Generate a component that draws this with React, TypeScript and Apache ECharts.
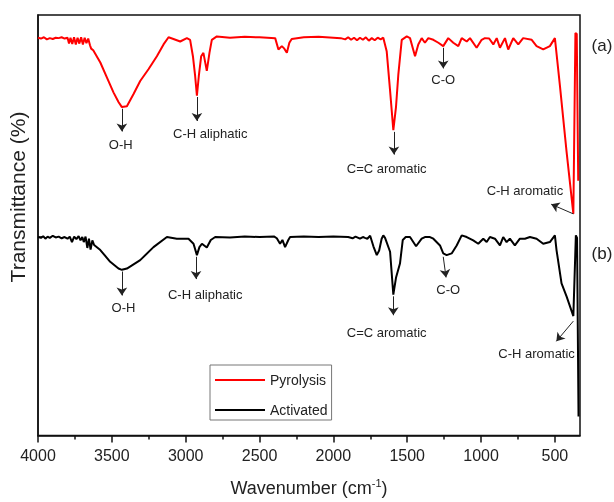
import React, { useEffect, useRef } from 'react';
import * as echarts from 'echarts';

const FONT = "'Liberation Sans', Arial, sans-serif";

const MAJOR_TICKS = [4000, 3500, 3000, 2500, 2000, 1500, 1000, 500];
const MINOR_TICKS = [3750, 3250, 2750, 2250, 1750, 1250, 750];
const SERIES_NAMES = ['Pyrolysis', 'Activated'];

const pyrolysis: [number, number][] = [
  [4000, 94.6], [3980, 94.4], [3960, 94.7], [3940, 94.2], [3920, 94.5], [3900, 94.3], [3880, 94.6], [3860, 94.5], [3840, 94.7], [3820, 94.4], [3800, 94.6],
  [3790, 93.2], [3780, 94.6], [3768, 93.1], [3756, 94.7], [3744, 93.0], [3732, 94.6], [3720, 93.2], [3708, 94.7], [3696, 93.0], [3684, 94.6], [3672, 93.3], [3660, 94.4], [3648, 92.8], [3640, 92.0], [3626, 91.6],
  [3578, 88.7], [3533, 85.1], [3489, 81.6], [3455, 79.3], [3432, 78.1], [3398, 78.3], [3353, 81.2], [3308, 84.3], [3252, 87.1], [3195, 90.2], [3150, 93.0], [3116, 94.7], [3083, 94.3], [3037, 93.7], [2992, 94.5], [2970, 94.1],
  [2951, 90.2], [2936, 85.5], [2924, 80.8], [2911, 85.5], [2895, 90.2], [2880, 91.0], [2857, 86.7], [2839, 91.0], [2823, 94.1], [2789, 94.9],
  [2700, 94.6], [2600, 94.8], [2500, 94.7], [2394, 94.5], [2372, 91.8], [2349, 92.6], [2332, 92.0], [2315, 91.0], [2298, 93.4], [2282, 94.3], [2200, 94.7], [2100, 94.8], [2000, 94.6], [1950, 94.5],
  [1920, 94.2], [1900, 94.7], [1880, 94.1], [1860, 94.6], [1840, 94.0], [1820, 94.6], [1800, 94.1], [1780, 94.7], [1760, 93.9], [1740, 94.5], [1720, 94.0], [1700, 94.6], [1680, 94.2], [1662, 94.6],
  [1639, 91.4], [1616, 82.0], [1594, 72.6], [1576, 78.1], [1560, 85.9], [1537, 94.1], [1503, 94.9], [1481, 94.5], [1447, 90.2], [1425, 93.0], [1402, 94.5], [1380, 93.4], [1357, 94.5], [1323, 94.1], [1289, 93.4],
  [1256, 92.6], [1222, 94.5], [1188, 93.4], [1154, 92.6], [1131, 94.5], [1097, 93.7], [1075, 94.5], [1030, 92.2], [996, 94.1], [974, 94.5], [945, 94.4], [917, 93.0], [894, 94.5], [872, 92.2], [838, 94.5],
  [816, 91.8], [782, 94.5], [748, 93.0], [715, 94.5], [657, 94.1], [624, 92.6], [579, 91.8], [534, 92.6], [500, 94.5],
  [466, 83.2], [421, 67.5], [375, 52.7], [361, 95.7], [352, 95.5], [342, 60.6],
];

const activated: [number, number][] = [
  [4000, 47.2], [3980, 47.0], [3965, 47.4], [3950, 46.8], [3935, 47.3], [3920, 47.0], [3900, 47.5], [3880, 47.1], [3860, 47.3], [3840, 46.9], [3820, 47.2], [3800, 46.8],
  [3785, 47.3], [3770, 46.0], [3755, 47.3], [3740, 46.7], [3725, 47.4], [3712, 46.4], [3700, 47.2], [3690, 46.0], [3678, 47.3], [3666, 44.6], [3655, 46.8], [3644, 44.2], [3632, 46.4], [3620, 45.3],
  [3578, 44.1], [3511, 41.3], [3455, 39.7], [3432, 39.4], [3398, 39.7], [3308, 41.7], [3218, 44.8], [3127, 47.2], [3060, 46.8], [2981, 46.8],
  [2947, 45.6], [2924, 42.9], [2907, 44.8], [2890, 45.6], [2857, 44.7], [2830, 46.5], [2800, 47.2],
  [2700, 47.1], [2600, 47.3], [2500, 47.2], [2400, 47.3], [2383, 46.9], [2361, 45.6], [2345, 46.5], [2327, 44.8], [2305, 46.5], [2293, 47.2], [2200, 47.3], [2100, 47.2], [2000, 47.3],
  [1900, 47.2], [1870, 46.9], [1850, 47.3], [1820, 46.8], [1800, 47.2], [1786, 47.0], [1770, 46.8], [1751, 47.5],
  [1729, 45.0], [1706, 42.9], [1690, 44.0], [1673, 46.8], [1662, 47.6], [1650, 47.0], [1616, 43.7], [1594, 33.5], [1576, 37.5], [1549, 40.9], [1530, 46.5], [1510, 47.2], [1481, 47.2],
  [1440, 45.0], [1402, 46.8], [1380, 47.2], [1346, 47.2], [1323, 46.8], [1278, 45.2], [1256, 43.3], [1233, 42.9], [1199, 43.3], [1165, 45.2], [1131, 47.6], [1097, 47.2], [1053, 46.4],
  [1019, 45.6], [985, 46.8], [962, 46.0], [940, 47.2], [906, 46.8], [872, 45.2], [850, 47.2], [827, 46.0], [805, 46.8], [771, 45.2], [737, 46.8], [703, 46.8], [669, 47.2], [624, 46.8],
  [579, 45.6], [534, 46.0], [500, 47.6],
  [489, 44.1], [455, 36.2], [421, 33.1], [375, 28.4], [358, 47.6], [350, 47.0], [340, 4.5],
];

// annotation: label, arrow start, arrow tip, label anchor (data coordinates)
type Note = { label: string; from: [number, number]; to: [number, number]; at: [number, number] };

const pyrolysisNotes: Note[] = [
  { label: 'O-H', from: [3432, 77.7], to: [3432, 72.3], at: [3440, 69.1] },
  { label: 'C-H aliphatic', from: [2924, 80.5], to: [2924, 74.8], at: [2834, 71.8] },
  { label: 'C=C aromatic', from: [1590, 72.2], to: [1590, 66.8], at: [1639, 63.5] },
  { label: 'C-O', from: [1256, 92.2], to: [1256, 87.3], at: [1256, 84.7] },
  { label: 'C-H aromatic', from: [375, 52.7], to: [525, 55.0], at: [703, 58.3] },
];

const activatedNotes: Note[] = [
  { label: 'O-H', from: [3432, 39.0], to: [3432, 33.3], at: [3421, 30.4] },
  { label: 'C-H aliphatic', from: [2930, 42.5], to: [2930, 37.2], at: [2868, 33.5] },
  { label: 'C=C aromatic', from: [1594, 33.1], to: [1594, 28.6], at: [1639, 24.6] },
  { label: 'C-O', from: [1256, 42.5], to: [1237, 37.6], at: [1222, 34.8] },
  { label: 'C-H aromatic', from: [375, 27.2], to: [490, 22.4], at: [624, 19.4] },
];

const TEXT = '#222';

function annotate(notes: Note[]) {
  return {
    markLine: {
      silent: true,
      animation: false,
      symbol: ['none', 'arrow'],
      symbolSize: 8,
      label: { show: false },
      lineStyle: { color: '#222', width: 1, type: 'solid' },
      itemStyle: { color: '#222' },
      emphasis: { disabled: true },
      data: notes.map((n) => [{ coord: n.from }, { coord: n.to }]),
    },
    markPoint: {
      silent: true,
      animation: false,
      symbol: 'rect',
      symbolSize: 1,
      itemStyle: { color: 'rgba(0,0,0,0)' },
      label: {
        show: true,
        position: 'inside',
        color: TEXT,
        fontSize: 13,
        fontFamily: FONT,
        formatter: (p: any) => p.name,
      },
      emphasis: { disabled: true },
      data: notes.map((n) => ({ name: n.label, coord: n.at })),
    },
  };
}

export default function App() {
  const ref = useRef<HTMLDivElement>(null);
  useEffect(() => {
    const chart = echarts.init(ref.current!, null, { renderer: 'svg' });
    chart.setOption({
      animation: false,
      textStyle: { fontFamily: FONT },
      grid: {
        left: 38,
        right: 34,
        top: 15,
        bottom: 61,
        show: true,
        borderColor: '#111',
        borderWidth: 1.5,
        backgroundColor: 'transparent',
      },
      legend: {
        data: SERIES_NAMES,
        orient: 'vertical',
        left: 210,
        top: 365,
        padding: [8, 4, 3, 5],
        itemGap: 16,
        itemWidth: 50,
        itemHeight: 2,
        icon: 'rect',
        borderColor: '#777',
        borderWidth: 1,
        textStyle: { fontSize: 14, color: TEXT, fontFamily: FONT },
      },
      xAxis: [
        {
          type: 'value',
          inverse: true,
          min: 330,
          max: 4000,
          position: 'bottom',
          name: '{a|Wavenumber (cm}{s|-1}{a|)}',
          nameLocation: 'middle',
          nameGap: 42,
          nameTextStyle: {
            rich: {
              a: { fontSize: 18, color: TEXT, fontFamily: FONT },
              s: { fontSize: 11, color: TEXT, fontFamily: FONT, padding: [0, 0, 10, 0] },
            },
          },
          axisLine: { show: true, lineStyle: { color: '#111', width: 1.5 } },
          axisTick: { show: true, inside: false, customValues: MAJOR_TICKS, length: 7, lineStyle: { color: '#111', width: 1.5 } },
          axisLabel: {
            show: true,
            customValues: MAJOR_TICKS,
            fontSize: 16,
            color: TEXT,
            fontFamily: FONT,
            margin: 12,
            formatter: (v: number) => String(v),
          },
          splitLine: { show: false },
        },
        {
          type: 'value',
          inverse: true,
          min: 330,
          max: 4000,
          position: 'bottom',
          offset: 0,
          axisLine: { show: false },
          axisTick: { show: true, inside: false, customValues: MINOR_TICKS, length: 4, lineStyle: { color: '#111', width: 1.5 } },
          axisLabel: { show: false },
          splitLine: { show: false },
        },
      ],
      yAxis: {
        type: 'value',
        min: 0,
        max: 100,
        axisLine: { show: true, lineStyle: { color: '#111', width: 1.5 } },
        axisTick: { show: true, inside: true, customValues: [47.2], length: 4, lineStyle: { color: '#111', width: 1.5 } },
        axisLabel: { show: false },
        splitLine: { show: false },
      },
      graphic: [
        {
          type: 'text',
          x: 17,
          y: 197,
          rotation: Math.PI / 2,
          style: { text: 'Transmittance (%)', fontSize: 21, fill: TEXT, fontFamily: FONT, align: 'center', verticalAlign: 'middle' },
        },
        {
          type: 'text',
          x: 602,
          y: 45,
          style: { text: '(a)', fontSize: 17, fill: TEXT, fontFamily: FONT, align: 'center', verticalAlign: 'middle' },
        },
        {
          type: 'text',
          x: 602,
          y: 253,
          style: { text: '(b)', fontSize: 17, fill: TEXT, fontFamily: FONT, align: 'center', verticalAlign: 'middle' },
        },
      ],
      series: [
        {
          name: SERIES_NAMES[0],
          type: 'line',
          data: pyrolysis,
          symbol: 'none',
          color: '#ff0000',
          lineStyle: { color: '#ff0000', width: 2 },
          z: 3,
          ...annotate(pyrolysisNotes),
        },
        {
          name: SERIES_NAMES[1],
          type: 'line',
          data: activated,
          symbol: 'none',
          color: '#000000',
          lineStyle: { color: '#000000', width: 2 },
          z: 3,
          ...annotate(activatedNotes),
        },
      ],
    });
    return () => chart.dispose();
  }, []);
  return <div ref={ref} style={{ position: 'fixed', left: 0, top: 0, width: 614, height: 502 }} />;
}
